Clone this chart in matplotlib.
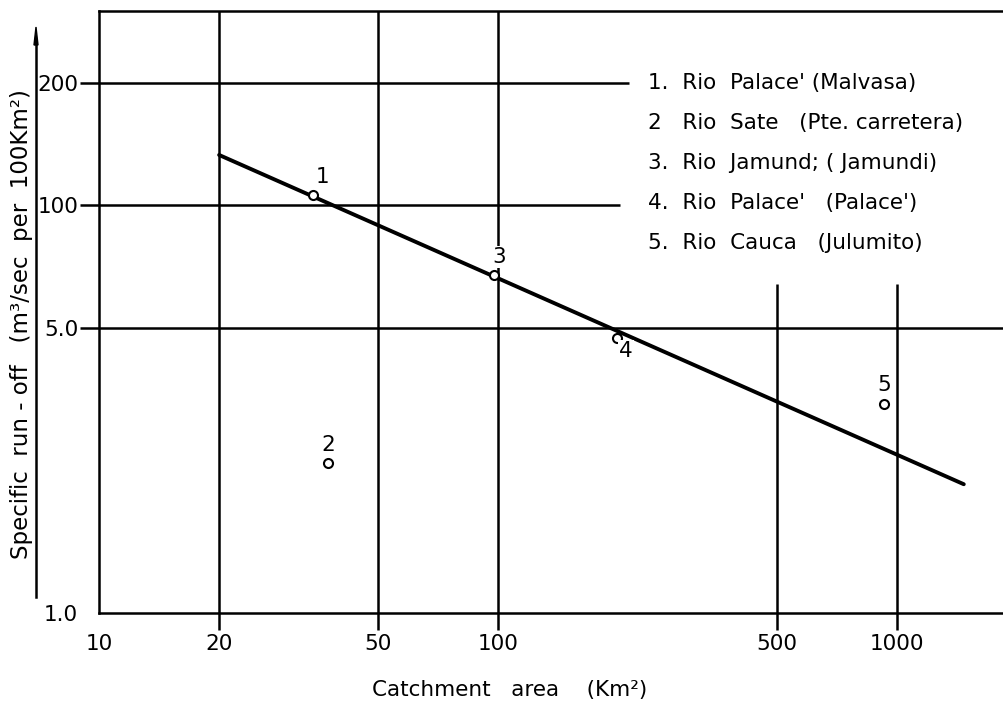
import matplotlib
matplotlib.use("Agg")
import matplotlib.pyplot as plt
from matplotlib.lines import Line2D

# Catchment area (km²) and specific run-off for the gauging stations
station_ids = ["1", "2", "3", "4", "5"]
area = [34.4, 37.5, 97.7, 198.7, 927]
runoff = [105.8, 23.3, 67.6, 47.3, 32.5]

# Fitted regression line (end points)
trend_area = [20, 1470]
trend_runoff = [133, 20.7]

station_names = [
    "1.  Rio  Palace' (Malvasa)",
    "2   Rio  Sate   (Pte. carretera)",
    "3.  Rio  Jamund; ( Jamundi)",
    "4.  Rio  Palace'   (Palace')",
    "5.  Rio  Cauca   (Julumito)",
]

x_ticks = [10, 20, 50, 100, 500, 1000]
x_tick_labels = ["10", "20", "50", "100", "500", "1000"]
y_ticks = [10, 50, 100, 200]
y_tick_labels = ["1.0", "5.0", "100", "200"]

FS = 15.5
W, H = 1004, 705
fig = plt.figure(figsize=(W / 100, H / 100), dpi=100)
ax = fig.add_axes([99 / W, 1 - 613 / H, (W - 99) / W, (613 - 11) / H])
ax.set_xscale("log")
ax.set_yscale("log")
ax.set_xlim(10, 1854)
ax.set_ylim(10, 300)

lw = 1.8
for s in ["left", "bottom", "top"]:
    ax.spines[s].set_linewidth(lw)
ax.spines["right"].set_visible(False)

# Grid lines (partial, as drawn on the chart)
ax.vlines([20, 50, 100], 10, 300, color="black", lw=lw, zorder=1)
ax.vlines([500, 1000], 10, 64, color="black", lw=lw, zorder=1)
ax.hlines(200, 10, 213, color="black", lw=lw, zorder=1)
ax.hlines(100, 10, 202, color="black", lw=lw, zorder=1)
ax.hlines(50, 10, 1854, color="black", lw=lw, zorder=1)

ax.minorticks_off()
ax.set_xticks(x_ticks)
ax.set_xticklabels(x_tick_labels)
ax.set_yticks(y_ticks)
ax.set_yticklabels(y_tick_labels)
ax.tick_params(axis="x", length=12, width=lw, pad=3, labelsize=FS)
ax.tick_params(axis="y", length=14, width=lw, pad=1, labelsize=FS)
ax.xaxis.get_major_ticks()[0].tick1line.set_visible(False)
ax.yaxis.get_major_ticks()[0].tick1line.set_visible(False)

# Regression line and observed stations
ax.plot(trend_area, trend_runoff, color="black", lw=2.8, solid_capstyle="round", zorder=2)
ax.plot(area, runoff, linestyle="none", marker="o", markersize=6.5,
        markerfacecolor="white", markeredgecolor="black", markeredgewidth=1.5, zorder=3)

label_offsets = [(9, 18), (0, 18), (5, 18), (9, -13), (0, 19)]
for sid, xv, yv, (dx, dy) in zip(station_ids, area, runoff, label_offsets):
    ax.annotate(sid, (xv, yv), xytext=(dx * 0.72, dy * 0.72), textcoords="offset points",
                ha="center", va="center", fontsize=FS, zorder=4,
                bbox=dict(boxstyle="square,pad=0.05", fc="white", ec="none"))

# Station list
for i, name in enumerate(station_names):
    fig.text(648 / W, 1 - (83 + 40 * i) / H, name, fontsize=FS,
             ha="left", va="center")

# Axis titles
fig.text(22 / W, 1 - 324 / H, "Specific  run - off   (m³/sec  per  100Km²)",
         rotation=90, ha="center", va="center", fontsize=16.5)
fig.text(510 / W, 1 - 690 / H, "Catchment   area    (Km²)",
         ha="center", va="center", fontsize=FS)

# Vertical arrow line beside the y title
fig.add_artist(Line2D([36 / W, 36 / W], [1 - 597 / H, 1 - 40 / H],
                      transform=fig.transFigure, color="black", lw=1.8))
fig.add_artist(plt.Polygon([[34 / W, 1 - 45 / H], [38 / W, 1 - 45 / H], [36 / W, 1 - 27 / H]],
                           closed=True, transform=fig.transFigure, color="black"))

fig.savefig("out.png", dpi=100)
